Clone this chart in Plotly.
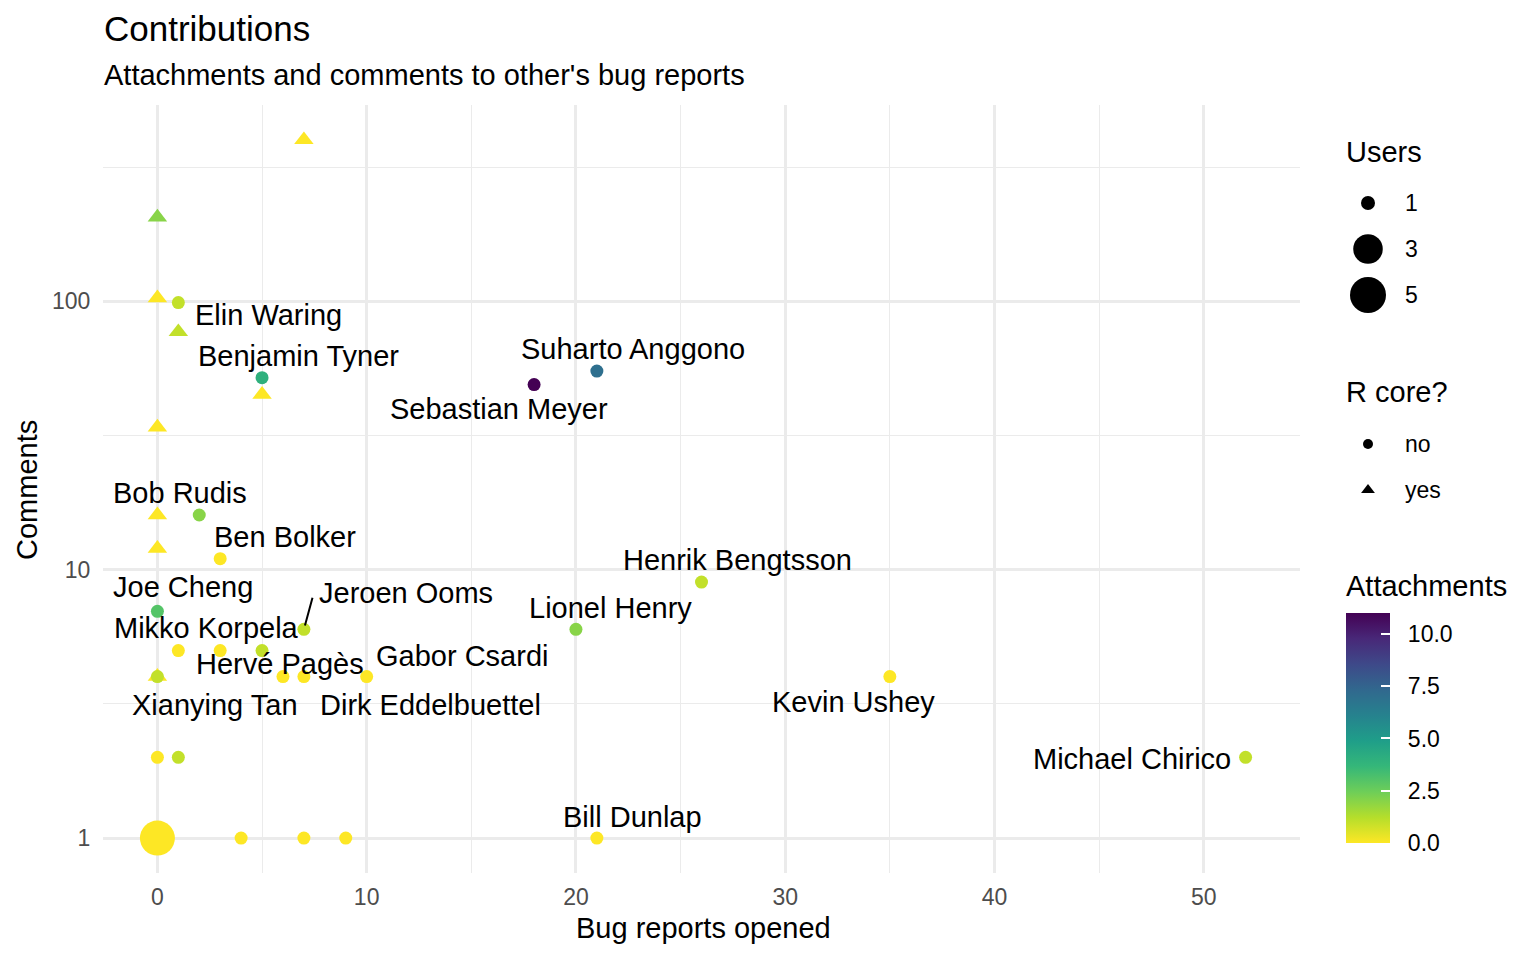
import numpy as np
import plotly.graph_objects as go

# contributors who are not R core (drawn as circles)
names = ["Elin Waring", "Benjamin Tyner", "Sebastian Meyer", "Suharto Anggono", "Bob Rudis",
         "Ben Bolker", "Henrik Bengtsson", "Joe Cheng", "Jeroen Ooms", "Lionel Henry",
         "", "Mikko Korpela", "", "Xianying Tan", "Hervé Pagès", "Dirk Eddelbuettel",
         "Gabor Csardi", "Kevin Ushey", "", "", "Michael Chirico",
         "", "", "", "", "Bill Dunlap"]
bugs = [1, 5, 18, 21, 2, 3, 26, 0, 7, 20, 1, 3, 5, 0, 6, 7, 10, 35, 0, 1, 52, 0, 4, 7, 9, 21]
comments = [99, 52, 49, 55, 16, 11, 9, 7, 6, 6, 5, 5, 5, 4, 4, 4, 4, 4, 2, 2, 2, 1, 1, 1, 1, 1]
attachments = [1, 4, 11, 7, 2, 0, 1, 3, 1, 2, 0, 0, 1, 1, 0, 0, 0, 0, 0, 1, 1, 0, 0, 0, 0, 0]
users = [1, 1, 1, 1, 1, 1, 1, 1, 1, 1, 1, 1, 1, 1, 1, 1, 1, 1, 1, 1, 1, 5, 1, 1, 1, 1]

# R core members (triangles)
core_bugs = [7, 0, 0, 1, 5, 0, 0, 0, 0]
core_comments = [400, 206, 103, 77, 45, 34, 16, 12, 4]
core_attachments = [0, 2, 0, 1, 0, 0, 0, 0, 0]
core_users = [1, 1, 1, 1, 1, 1, 1, 1, 1]

size_breaks = [1, 3, 5]
core_levels = ["no", "yes"]
att_ticks = [0, 2.5, 5, 7.5, 10]
att_labels = ["0.0", "2.5", "5.0", "7.5", "10.0"]

# label offsets (pixels, like ggrepel pushed them)
label_offsets = {
    "Elin Waring": (90, 12), "Benjamin Tyner": (36, -22), "Sebastian Meyer": (-35, 24),
    "Suharto Anggono": (36, -22), "Bob Rudis": (-19, -22), "Ben Bolker": (65, -22),
    "Henrik Bengtsson": (36, -22), "Joe Cheng": (26, -24), "Jeroen Ooms": (102, -36),
    "Lionel Henry": (35, -21), "Mikko Korpela": (-14, -23), "Xianying Tan": (58, 28),
    "Hervé Pagès": (-3, -13), "Dirk Eddelbuettel": (127, 28), "Gabor Csardi": (95, -21),
    "Kevin Ushey": (-36, 25), "Michael Chirico": (-114, 2), "Bill Dunlap": (36, -21),
}

# the page body keeps an 8px margin, so the figure is a bit smaller than the window
OFF = 8
W, H = 1536 - 2 * OFF, 960 - 2 * OFF
FONT = "Liberation Sans"


def px(x):
    return (x - OFF) / W


def py(y):
    return 1 - (y - OFF) / H


def marker_size(u):
    return 13 + 22 * np.sqrt((np.asarray(u, dtype=float) - 1) / 4)


fig = go.Figure()

fig.add_trace(go.Scatter(
    x=core_bugs, y=core_comments, mode="markers",
    marker=dict(symbol="triangle-up", size=marker_size(core_users) * 1.3, opacity=1,
                color=core_attachments, coloraxis="coloraxis", line=dict(width=0)),
    name="R core", hoverinfo="x+y",
))
fig.add_trace(go.Scatter(
    x=bugs, y=comments, mode="markers",
    marker=dict(symbol="circle", size=marker_size(users), opacity=1,
                color=attachments, coloraxis="coloraxis", line=dict(width=0)),
    text=names, name="others",
))

annotations = []
for n, xb, yc in zip(names, bugs, comments):
    if not n:
        continue
    dx, dy = label_offsets[n]
    annotations.append(dict(
        x=xb, y=np.log10(yc), xref="x", yref="y", text=n, showarrow=False,
        xshift=dx, yshift=-dy, font=dict(size=29),
    ))
    if n == "Jeroen Ooms":
        annotations.append(dict(
            x=xb, y=np.log10(yc), xref="x", yref="y", text="", showarrow=True,
            ax=9, ay=-33, arrowhead=0, arrowwidth=2, arrowcolor="black", standoff=4,
        ))

# titles
annotations += [
    dict(x=px(102), y=py(29), text="Contributions", font=dict(size=35)),
    dict(x=px(102), y=py(75), text="Attachments and comments to other's bug reports", font=dict(size=29)),
    dict(x=px(703), y=py(928), text="Bug reports opened", xanchor="center", font=dict(size=29)),
    dict(x=px(27), y=py(490), text="Comments", xanchor="center", textangle=-90, font=dict(size=29)),
    dict(x=px(1344), y=py(152), text="Users", font=dict(size=29)),
    dict(x=px(1344), y=py(392), text="R core?", font=dict(size=29)),
    dict(x=px(1344), y=py(586), text="Attachments", font=dict(size=29)),
]
key_y_users = [203, 249, 295]
for b, ky in zip(size_breaks, key_y_users):
    annotations.append(dict(x=px(1403), y=py(ky), text=str(b), font=dict(size=23)))
key_y_core = [444, 490]
for lv, ky in zip(core_levels, key_y_core):
    annotations.append(dict(x=px(1403), y=py(ky), text=lv, font=dict(size=23)))
for a in annotations:
    a.setdefault("xref", "paper")
    a.setdefault("yref", "paper")
    a.setdefault("showarrow", False)
    a.setdefault("xanchor", "center" if a["xref"] == "x" else "left")
    a.setdefault("yanchor", "middle")
    f = a.get("font", {})
    a["font"] = dict(family=FONT, color="black", size=f.get("size", 23))

# legend keys on a hidden overlay axis
fig.add_trace(go.Scatter(
    x=[px(1368)] * 3, y=[py(v) for v in key_y_users], mode="markers",
    marker=dict(size=marker_size(size_breaks) + 1, color="black", opacity=1, line=dict(width=0)),
    xaxis="x2", yaxis="y2", hoverinfo="skip",
))
fig.add_trace(go.Scatter(
    x=[px(1368)] * 2, y=[py(v) for v in key_y_core], mode="markers",
    marker=dict(size=[10, 12], symbol=["circle", "triangle-up"], color="black",
                opacity=1, line=dict(width=0)),
    xaxis="x2", yaxis="y2", hoverinfo="skip",
))

fig.update_layout(
    width=W, height=H,
    paper_bgcolor="white", plot_bgcolor="rgba(0,0,0,0)",
    margin=dict(l=0, r=0, t=0, b=0),
    showlegend=False,
    font=dict(family=FONT, color="black"),
    annotations=annotations,
    xaxis=dict(
        domain=[px(103), px(1300)], range=[-2.6, 54.6],
        tickvals=[0, 10, 20, 30, 40, 50], ticks="outside", ticklen=3,
        tickcolor="rgba(0,0,0,0)", tickfont=dict(size=23, color="#4D4D4D"),
        showgrid=True, gridcolor="#EBEBEB", gridwidth=2.6, zeroline=False, showline=False,
        minor=dict(tickvals=[5, 15, 25, 35, 45], showgrid=True, gridcolor="#EBEBEB", gridwidth=1.3),
        anchor="y",
    ),
    yaxis=dict(
        type="log", domain=[py(873), py(105)], range=[-0.130, 2.732],
        tickvals=[1, 10, 100], ticktext=["1", "10", "100"], ticks="outside", ticklen=7,
        tickcolor="rgba(0,0,0,0)", tickfont=dict(size=23, color="#4D4D4D"),
        showgrid=True, gridcolor="#EBEBEB", gridwidth=2.6, zeroline=False, showline=False,
        minor=dict(tickvals=[10 ** 0.5, 10 ** 1.5, 10 ** 2.5], showgrid=True,
                   gridcolor="#EBEBEB", gridwidth=1.3),
        anchor="x",
    ),
    xaxis2=dict(domain=[0, 1], range=[0, 1], visible=False, anchor="y2", fixedrange=True),
    yaxis2=dict(domain=[0, 1], range=[0, 1], visible=False, anchor="x2", fixedrange=True),
    coloraxis=dict(
        colorscale="Viridis", reversescale=True, cmin=0, cmax=11,
        colorbar=dict(
            x=px(1346), xanchor="left", xpad=0, y=py(728), yanchor="middle", ypad=0,
            len=230, lenmode="pixels", thickness=44, thicknessmode="pixels",
            outlinewidth=0, ticks="inside", ticklen=9, tickwidth=1.5, tickcolor="white",
            tickvals=att_ticks, ticktext=["\u00a0\u00a0" + t for t in att_labels],
            tickfont=dict(family=FONT, size=23, color="black"),
        ),
    ),
)

fig.write_html("out.html")
